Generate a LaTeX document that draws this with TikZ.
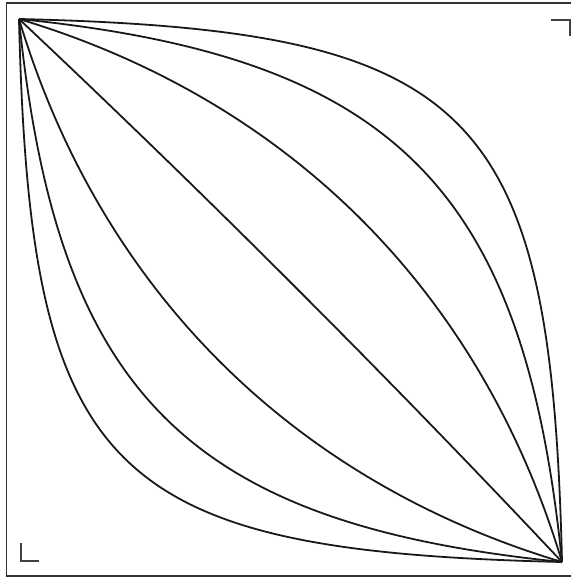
\documentclass[tikz,border=0pt]{standalone}
\begin{document}
\begin{tikzpicture}[x=0.5pt,y=-0.5pt,
  framestyle/.style={draw=black!80,line width=0.75pt},
  markstyle/.style={draw=black!75,line width=1pt},
  curvestyle/.style={draw=black!90,line width=0.9pt}]
\useasboundingbox (0,0) rectangle (571,577);
% frame (right side lies outside the picture)
\coordinate (f1) at (575,3);
\coordinate (f2) at (6.5,3);
\coordinate (f3) at (6.5,576);
\coordinate (f4) at (575,576);
\draw[framestyle] (f1) -- (f2) -- (f3) -- (f4);
% corner marks
\coordinate (m1) at (551,20);
\coordinate (m2) at (569.5,20);
\coordinate (m3) at (569.5,36);
\draw[markstyle] (m1) -- (m2) -- (m3);
\coordinate (n1) at (21,543);
\coordinate (n2) at (21,561);
\coordinate (n3) at (39,561);
\draw[markstyle] (n1) -- (n2) -- (n3);
% end points
\coordinate (A) at (19,19);
\coordinate (B) at (562,562);
% curves
\draw[curvestyle] (A) .. controls (475,30) and (551,106) .. (B);
\draw[curvestyle] (A) .. controls (394,57) and (524,187) .. (B);
\draw[curvestyle] (A) .. controls (289,100) and (481,292) .. (B);
\draw[curvestyle] (A) .. controls (204,193) and (388,377) .. (B);
\draw[curvestyle] (A) .. controls (100,289) and (292,481) .. (B);
\draw[curvestyle] (A) .. controls (57,394) and (187,524) .. (B);
\draw[curvestyle] (A) .. controls (30,475) and (106,551) .. (B);
\end{tikzpicture}
\end{document}
